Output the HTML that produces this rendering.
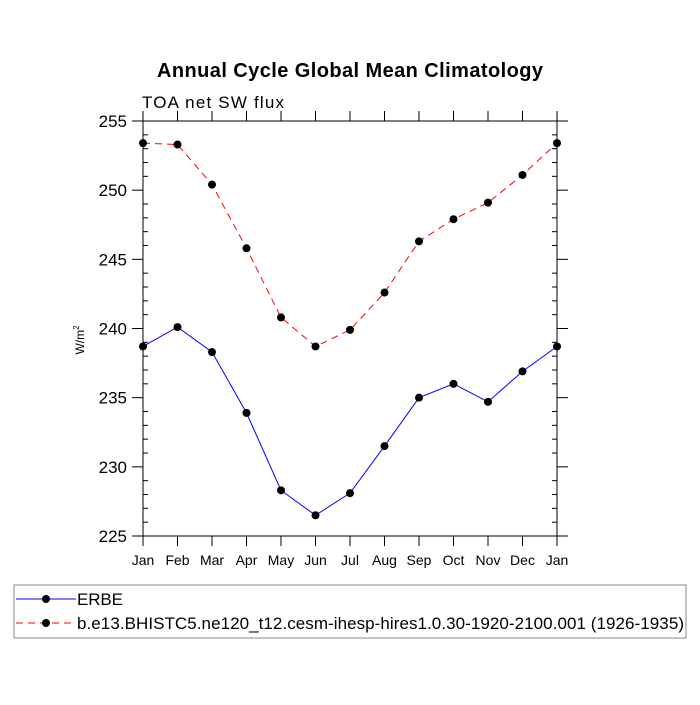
<!DOCTYPE html>
<html><head><meta charset="utf-8"><style>
body{margin:0;background:#fff;}
svg text{font-family:"Liberation Sans",Arial,sans-serif;}
</style></head><body>
<svg id="chart" width="700" height="700" xmlns="http://www.w3.org/2000/svg">
<rect width="700" height="700" fill="#fff"/>
<text x="350" y="77" text-anchor="middle" font-size="20" font-weight="bold" textLength="386">Annual Cycle Global Mean Climatology</text>
<text x="142" y="108" font-size="17" textLength="142">TOA net SW flux</text>
<text transform="translate(84,340) rotate(-90)" text-anchor="middle" font-size="12">W/m<tspan font-size="8" dy="-5">2</tspan></text>
<g id="axes"></g>
<g id="series"></g>
<rect x="14" y="585" width="672" height="53" fill="none" stroke="#888" stroke-width="1"/>
<g>
<line x1="16" y1="599" x2="76" y2="599" stroke="#0000ff" stroke-width="1"/>
<circle cx="46" cy="599" r="4" fill="#000"/>
<text x="77" y="605" font-size="17" textLength="46">ERBE</text></g>
<g>
<line x1="16" y1="623" x2="76" y2="623" stroke="#ff0000" stroke-width="1" stroke-dasharray="7,5"/>
<circle cx="46" cy="623" r="4" fill="#000"/>
<text x="77" y="629" font-size="17" textLength="607">b.e13.BHISTC5.ne120_t12.cesm-ihesp-hires1.0.30-1920-2100.001 (1926-1935)</text></g>
</svg>
<script>
const months=["Jan","Feb","Mar","Apr","May","Jun","Jul","Aug","Sep","Oct","Nov","Dec","Jan"];
const erbe=[238.7,240.1,238.3,233.9,228.3,226.5,228.1,231.5,235.0,236.0,234.7,236.9,238.7];
const model=[253.4,253.3,250.4,245.8,240.8,238.7,239.9,242.6,246.3,247.9,249.1,251.1,253.4];
const yTicks=[225,230,235,240,245,250,255];
const X0=143,X1=557,Y0=536,Y1=121,ymin=225,ymax=255;
const NS="http://www.w3.org/2000/svg";
function xs(i){return X0+(X1-X0)*i/(months.length-1);}
function ys(v){return Y0-(v-ymin)/(ymax-ymin)*(Y0-Y1);}
function mk(t,a,p){const e=document.createElementNS(NS,t);for(const k in a)e.setAttribute(k,a[k]);p.appendChild(e);return e;}
const ax=document.getElementById('axes');
const fr=mk('rect',{x:X0,y:Y1,width:X1-X0,height:Y0-Y1,fill:'none',stroke:'#000','stroke-width':1},ax);


for(let v=ymin;v<=ymax;v++){
  const y=ys(v);
  if(v%5===0){
    mk('line',{x1:X0-11,y1:y,x2:X0,y2:y,stroke:'#000'},ax);
    mk('line',{x1:X1,y1:y,x2:X1+11,y2:y,stroke:'#000'},ax);
  }else{
    mk('line',{x1:X0,y1:y,x2:X0+5,y2:y,stroke:'#000'},ax);
    mk('line',{x1:X1-5,y1:y,x2:X1,y2:y,stroke:'#000'},ax);
  }
}
yTicks.forEach(v=>{
  const t=mk('text',{x:X0-16,y:ys(v)+6,'text-anchor':'end','font-size':17},ax);
  t.textContent=v;
  
  
});
months.forEach((m,i)=>{
  const x=xs(i);
  mk('line',{x1:x,y1:Y0,x2:x,y2:Y0+10,stroke:'#000'},ax);
  mk('line',{x1:x,y1:Y1,x2:x,y2:Y1-10,stroke:'#000'},ax);
  const t=mk('text',{x:x,y:Y0+29,'text-anchor':'middle','font-size':14},ax);
  t.textContent=m;
  
  
});
const sg=document.getElementById('series');
function draw(vals,color,dash,name){
  const g=mk('g',{},sg);
  
  
  const pts=vals.map((v,i)=>xs(i)+','+ys(v)).join(' ');
  const a={points:pts,fill:'none',stroke:color,'stroke-width':1};
  if(dash)a['stroke-dasharray']=dash;
  mk('polyline',a,g);
  vals.forEach((v,i)=>{
    const c=mk('circle',{cx:xs(i),cy:ys(v),r:4,fill:'#000'},g);
    
    
  });
}
draw(model,'#ff0000','7,5','model-series');
draw(erbe,'#0000ff',null,'erbe-series');
</script>
</body></html>
